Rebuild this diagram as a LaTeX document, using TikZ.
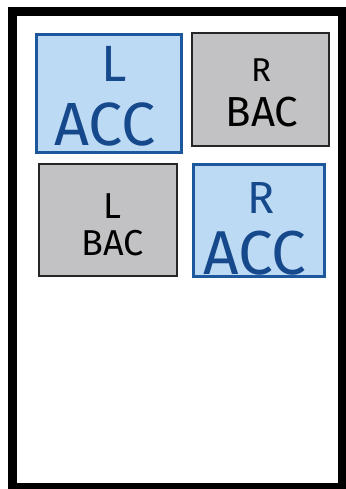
\documentclass[tikz,border=0pt]{standalone}
\usepackage{fontspec}
\setmainfont{Fira Sans}
\usetikzlibrary{positioning}
\definecolor{accfill}{RGB}{189,218,245}
\definecolor{accdraw}{RGB}{28,88,155}
\definecolor{acctext}{RGB}{22,72,140}
\definecolor{bacfill}{RGB}{194,193,195}

\begin{document}
\begin{tikzpicture}[x=1pt, y=-1pt,
  panel/.style={draw, inner sep=0pt},
  acc/.style={panel, fill=accfill, draw=accdraw, line width=3pt},
  bac/.style={panel, fill=bacfill, draw=black!85, line width=2pt},
  lbl/.style={inner sep=0pt, anchor=base},
  fs/.style={font=\fontsize{#1}{#1}\selectfont}
]
\useasboundingbox (0,0) rectangle (345,489);
\draw[line width=9pt] (12.5,12) rectangle (342.5,487.5);

% the four panels
\node[acc, minimum width=145pt, minimum height=118pt] (lacc) at (109,93.5) {};
\node[bac, minimum width=137pt, minimum height=113pt] (rbac) at (260.5,89.5) {};
\node[bac, minimum width=138pt, minimum height=112pt] (lbac) at (108,220) {};
\node[acc, minimum width=131pt, minimum height=112pt] (racc) at (259,220.5) {};

% labels
\node[lbl, fs=51, text=acctext] (laccside) at (114,82) {L};
\node[lbl, fs=61, text=acctext] (laccname) at (105,146) {ACC};
\node[lbl, fs=33] (rbacside) at (261,82) {R};
\node[lbl, fs=42] (rbacname) at (262,127) {BAC};
\node[lbl, fs=36] (lbacside) at (112,218) {L};
\node[lbl, fs=36] (lbacname) at (113,255) {BAC};
\node[lbl, fs=45, text=acctext] (raccside) at (261,213) {R};
\node[lbl, fs=62, text=acctext] (raccname) at (255,274) {ACC};
\end{tikzpicture}
\end{document}
